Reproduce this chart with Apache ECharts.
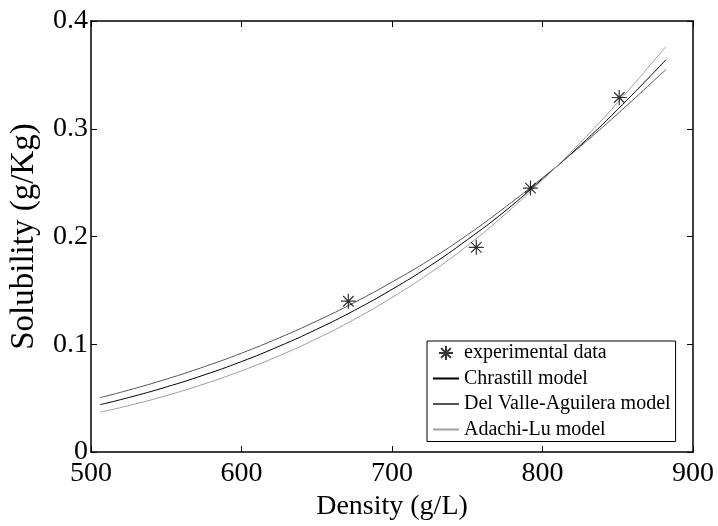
<!DOCTYPE html>
<html><head><meta charset="utf-8">
<script src="https://cdn.jsdelivr.net/npm/echarts@6/dist/echarts.min.js"></script>
<style>html,body{margin:0;padding:0;background:#fff;overflow:hidden}#c{width:718px;height:526px}</style>
</head><body><div id="c"></div>
<script>
const densities = [506, 525, 550, 575, 600, 625, 650, 675, 700, 725, 750, 775, 800, 825, 850, 882];
const chrastill = [0.044, 0.0506, 0.0604, 0.0715, 0.084, 0.0982, 0.114, 0.1315, 0.151, 0.1726, 0.197, 0.2235, 0.2535, 0.2845, 0.318, 0.364];
const delValle  = [0.0505, 0.0575, 0.0677, 0.0791, 0.0918, 0.106, 0.1216, 0.1388, 0.1578, 0.1784, 0.2015, 0.227, 0.2545, 0.2835, 0.314, 0.355];
const adachi    = [0.037, 0.0431, 0.0524, 0.0631, 0.0754, 0.0894, 0.1053, 0.1232, 0.1435, 0.166, 0.1915, 0.2205, 0.2525, 0.287, 0.3245, 0.3763];
const expDensity = [671, 756, 792, 851];
const expSolubility = [0.14, 0.19, 0.245, 0.329];
const xTicks = [500, 600, 700, 800, 900];
const yTicks = [0, 0.1, 0.2, 0.3, 0.4];

const FONT = "'Liberation Serif', 'Times New Roman', serif";
const pair = (xs, ys) => xs.map((x, i) => [x, ys[i]]);
const star = 'path://M10,0L10,20M0,10L20,10M3,3L17,17M3,17L17,3';

const axisCommon = {
  axisLine: { show: true, onZero: false, lineStyle: { color: '#000', width: 1.5 } },
  axisTick: { show: true, inside: true, length: 6, lineStyle: { color: '#000', width: 1 } },
  splitLine: { show: false }
};

const chart = echarts.init(document.getElementById('c'), null, { renderer: 'canvas', width: 718, height: 526 });
chart.setOption({
  animation: false,
  backgroundColor: '#fff',
  grid: { left: 85, top: 21, right: 25, bottom: 61, containLabel: false },
  xAxis: [
    Object.assign({}, axisCommon, {
      type: 'value', min: xTicks[0], max: xTicks[xTicks.length - 1], interval: 100, position: 'bottom',
      name: 'Density (g/L)', nameLocation: 'middle', nameGap: 36,
      nameTextStyle: { fontFamily: FONT, fontSize: 28, color: '#000', verticalAlign: 'top' },
      axisLabel: { show: true, margin: 8, fontFamily: FONT, fontSize: 28, color: '#000' }
    }),
    Object.assign({}, axisCommon, {
      type: 'value', min: xTicks[0], max: xTicks[xTicks.length - 1], interval: 100, position: 'top',
      axisLabel: { show: false }
    })
  ],
  yAxis: [
    Object.assign({}, axisCommon, {
      type: 'value', min: yTicks[0], max: yTicks[yTicks.length - 1], interval: 0.1, position: 'left',
      name: 'Solubility (g/Kg)', nameLocation: 'middle', nameGap: 50,
      nameTextStyle: { fontFamily: FONT, fontSize: 33, color: '#000' },
      axisLabel: { show: true, margin: 3, fontFamily: FONT, fontSize: 28, color: '#000' }
    }),
    Object.assign({}, axisCommon, {
      type: 'value', min: yTicks[0], max: yTicks[yTicks.length - 1], interval: 0.1, position: 'right',
      axisLabel: { show: false }
    })
  ],
  legend: {
    orient: 'vertical', left: 427, top: 341,
    itemWidth: 26, itemHeight: 14, itemGap: 5.5,
    padding: [2, 5, 2, 5],
    borderColor: '#000', borderWidth: 1, backgroundColor: '#fff',
    textStyle: { fontFamily: FONT, fontSize: 20, color: '#000' },
    data: [
      { name: 'experimental data' },
      { name: 'Chrastill model', itemStyle: { opacity: 0 } },
      { name: 'Del Valle-Aguilera model', itemStyle: { opacity: 0 } },
      { name: 'Adachi-Lu model', itemStyle: { opacity: 0 } }
    ]
  },
  series: [
    { name: 'Chrastill model', type: 'line', data: pair(densities, chrastill), symbol: 'none', smooth: true,
      lineStyle: { color: '#000', width: 1 }, itemStyle: { color: '#000' } },
    { name: 'Del Valle-Aguilera model', type: 'line', data: pair(densities, delValle), symbol: 'none', smooth: true,
      lineStyle: { color: '#555', width: 1 }, itemStyle: { color: '#555' } },
    { name: 'Adachi-Lu model', type: 'line', data: pair(densities, adachi), symbol: 'none', smooth: true,
      lineStyle: { color: '#a0a0a0', width: 1 }, itemStyle: { color: '#a0a0a0' } },
    { name: 'experimental data', type: 'scatter', data: pair(expDensity, expSolubility), symbol: star, symbolSize: 15,
      itemStyle: { color: 'none', borderColor: '#000', borderWidth: 1.2 }, z: 5 }
  ]
});
</script></body></html>
